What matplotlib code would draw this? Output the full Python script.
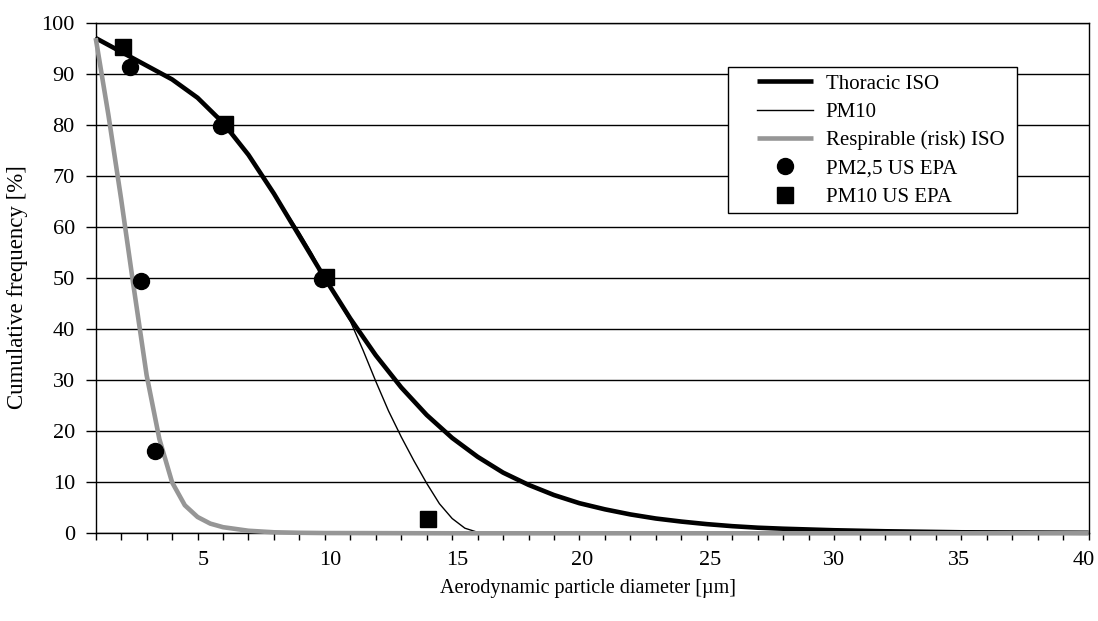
import matplotlib
matplotlib.use("Agg")
import matplotlib.pyplot as plt
import matplotlib.transforms as mtransforms
from matplotlib.patches import Rectangle

plt.rcParams["font.family"] = ["Liberation Serif", "DejaVu Serif"]

# curves
thoracic_x = [1, 2, 3, 4, 5, 6, 7, 8, 9, 10, 11, 12, 13, 14, 15, 16, 17, 18, 19, 20,
              21, 22, 23, 24, 25, 26, 27, 28, 30, 32, 35, 40]
thoracic_iso = [97.1, 94.4, 91.7, 89.0, 85.4, 80.5, 74.2, 66.6, 58.3, 50.0, 42.1, 34.9,
                28.6, 23.2, 18.7, 15.0, 11.9, 9.5, 7.5, 5.9, 4.7, 3.7, 2.9, 2.3, 1.8,
                1.4, 1.1, 0.9, 0.6, 0.4, 0.2, 0.1]

pm10_x = [1, 2, 3, 4, 5, 6, 7, 8, 8.5, 9, 9.5, 10, 10.5, 11, 11.5, 12, 12.5, 13, 13.5,
          14, 14.5, 15, 15.5, 16, 16.5]
pm10 = [97.1, 94.4, 91.7, 89.0, 85.4, 80.5, 74.2, 66.6, 62.8, 59.0, 54.8, 50.0, 45.8,
        41.6, 35.9, 29.8, 24.0, 18.9, 14.2, 9.8, 5.8, 2.9, 1.0, 0.2, 0.0]

resp_x = [1, 1.5, 2, 2.5, 3, 3.5, 4, 4.5, 5, 5.5, 6, 7, 8, 9, 10, 15, 20, 30, 40]
respirable_iso = [97.1, 82.0, 65.5, 48.0, 31.0, 18.5, 10.0, 5.5, 3.2, 1.9, 1.2, 0.5,
                  0.2, 0.1, 0.05, 0.0, 0.0, 0.0, 0.0]

pm25_epa_x = [2.35, 2.76, 3.33, 5.94, 9.9]
pm25_epa = [91.5, 49.4, 16.2, 79.9, 49.8]

pm10_epa_x = [2.06, 6.07, 10.03, 14.07]
pm10_epa = [95.4, 80.3, 50.2, 2.8]

x_ticks = [5, 10, 15, 20, 25, 30, 35, 40]
x_label_shift = [6, 5, 5, 3, 3, 0, -2, -5]  # px, labels don't sit exactly on ticks
y_ticks = [0, 10, 20, 30, 40, 50, 60, 70, 80, 90, 100]

fig = plt.figure(figsize=(10.98, 6.21), dpi=100)
ax = fig.add_axes([95.7 / 1098, 1 - 533.3 / 621, 993 / 1098, 510 / 621])

gray = "#969696"
ax.plot(thoracic_x, thoracic_iso, color="black", lw=3.3, label="Thoracic ISO",
        clip_on=False, zorder=3, solid_capstyle="butt")
ax.plot(pm10_x, pm10, color="black", lw=1.0, label="PM10", clip_on=False, zorder=3)
ax.plot(resp_x, respirable_iso, color=gray, lw=3.3, label="Respirable (risk) ISO",
        clip_on=False, zorder=3, solid_capstyle="butt")
ax.plot(pm25_epa_x, pm25_epa, "o", color="black", ms=11.5, label="PM2,5 US EPA",
        clip_on=False, zorder=4)
ax.plot(pm10_epa_x, pm10_epa, "s", color="black", ms=11, label="PM10 US EPA",
        clip_on=False, zorder=4)

ax.set_xlim(1, 40)
ax.set_ylim(0, 100)
ax.set_xticks(x_ticks)
ax.set_xticks(range(1, 41), minor=True)
ax.set_yticks(y_ticks)
ax.tick_params(axis="x", which="both", direction="out", length=5, width=1,
               labelsize=16, pad=8)
ax.tick_params(axis="y", direction="out", length=7, width=1, labelsize=16, pad=8)
ax.grid(axis="y", color="black", lw=1)
ax.set_axisbelow(True)
for s in ax.spines.values():
    s.set_linewidth(1)

for lab, dx in zip(ax.get_xticklabels(), x_label_shift):
    off = mtransforms.ScaledTranslation(dx / 100, 0, fig.dpi_scale_trans)
    lab.set_transform(lab.get_transform() + off)

fig.text(588 / 1098, 1 - 588 / 621, "Aerodynamic particle diameter [µm]",
         fontsize=14.5, ha="center", va="center")
fig.text(18 / 1098, 1 - 287 / 621, "Cumulative frequency [%]", fontsize=16.5,
         ha="center", va="center", rotation=90)

# legend box drawn by hand to get the odd padding
fig.patches.append(Rectangle((728.3 / 1098, 1 - 213 / 621), 288.4 / 1098, 146.3 / 621,
                             transform=fig.transFigure, facecolor="white",
                             edgecolor="black", lw=1, zorder=5))
leg = fig.legend(loc="upper left", bbox_to_anchor=(757 / 1098, 1 - 74 / 621),
                 frameon=False, fontsize=15, handlelength=2.7, handletextpad=0.6,
                 labelspacing=0.42, borderpad=0, borderaxespad=0)
leg.set_zorder(6)

fig.savefig("out.png", dpi=100)
